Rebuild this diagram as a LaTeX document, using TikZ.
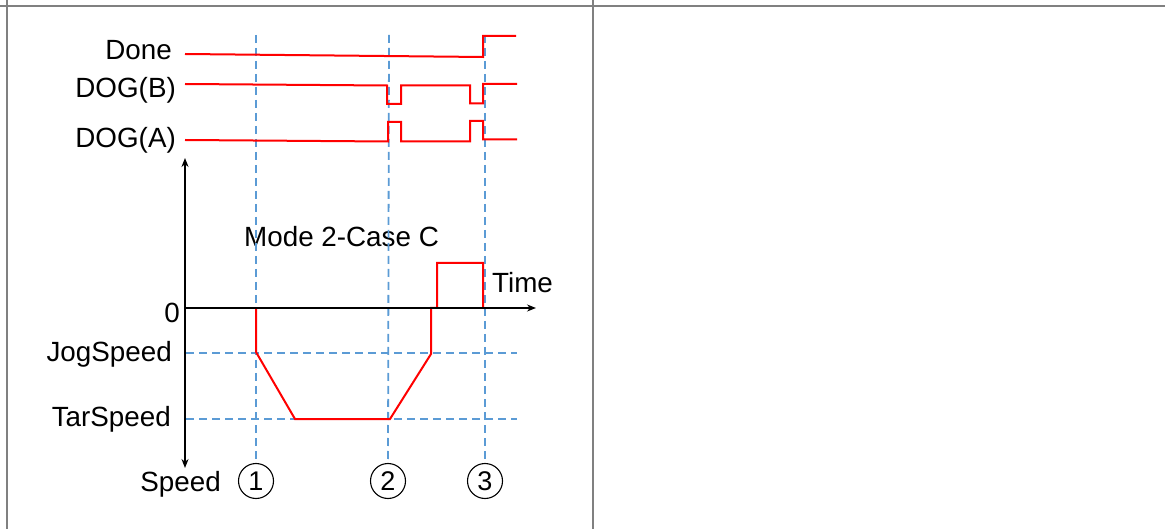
\documentclass[tikz,border=0pt]{standalone}
\usepackage{fontspec}
\setmainfont{Liberation Sans}
\usetikzlibrary{arrows.meta}
\definecolor{gridblue}{RGB}{91,155,213}
\definecolor{cellgray}{RGB}{128,128,128}
\definecolor{sigred}{RGB}{255,0,0}
\begin{document}
\begin{tikzpicture}[x=1pt,y=-1pt,
  lbl/.style={inner sep=0pt,font=\fontsize{27.8}{31}\selectfont},
  sig/.style={draw=sigred,line width=2pt,line join=miter},
  gridline/.style={draw=gridblue,line width=1.8pt,dash pattern=on 8pt off 5pt},
  axisline/.style={draw=black,line width=1.5pt},
  cell/.style={draw=cellgray,line width=2pt},
  num/.style={circle,draw=black,line width=1.1pt,minimum size=35pt,inner sep=0pt,font=\fontsize{27}{30}\selectfont}
]
\useasboundingbox (0,0) rectangle (1165,529);
% table cell borders
\draw[cell] (0,6) -- (1165,6);
\draw[cell] (7,0) -- (7,529);
\draw[cell] (593,0) -- (593,529);

% signal labels
\node[lbl,anchor=east] (done) at (172,50) {Done};
\node[lbl,anchor=east] (dogb) at (176,90) {DOG(B)};
\node[lbl,anchor=east] (doga) at (176,140) {DOG(A)};
\node[lbl,anchor=east] (zero) at (180,313) {0};
\node[lbl,anchor=east] (jog) at (172,354) {JogSpeed};
\node[lbl,anchor=east] (tar) at (171,419) {TarSpeed};
\node[lbl,anchor=east] (speed) at (221,484) {Speed};
\node[lbl,anchor=west] (time) at (492,283) {Time};
\node[lbl,anchor=west] (mode) at (244,237) {Mode 2-Case C};

% circled markers
\node[num] (m1) at (256,481) {1};
\node[num] (m2) at (388,481) {2};
\node[num] (m3) at (485,481) {3};

% dashed grid
\draw[gridline] (256,35) -- (m1.north);
\draw[gridline] (389,35) -- (m2.north);
\draw[gridline] (485,35) -- (m3.north);
\draw[gridline] (186,353) -- (517,353);
\draw[gridline] (186,419) -- (517,419);

% digital signals
\draw[sig] (185,54) -- (483,57) -- (483,36) -- (516,36);
\draw[sig] (185,84) -- (387,85.5) -- (387,104) -- (401,104) -- (401,85.5) -- (470,85.5)
  -- (470,103.5) -- (483,103.5) -- (483,84) -- (517,84);
\draw[sig] (185,140) -- (388,141.5) -- (388,122) -- (401,122) -- (401,141.5) -- (470,141.5)
  -- (470,121) -- (483,121) -- (483,139.5) -- (517,139.5);

% speed profile
\draw[sig] (256,308) -- (256,352) -- (295,419) -- (390,419) -- (431,354) -- (431,308)
  -- (437,308) -- (437,263) -- (483,263) -- (483,308);

% axes
\coordinate (ytop) at (185,158);
\coordinate (ybot) at (185,468);
\coordinate (orig) at (185,308);
\coordinate (xend) at (536,308);
\draw[axisline,{Stealth[length=9pt,width=7pt]}-{Stealth[length=9pt,width=7pt]}] (ytop) -- (ybot);
\draw[axisline,-{Stealth[length=9pt,width=7pt]}] (orig) -- (xend);
\end{tikzpicture}
\end{document}
